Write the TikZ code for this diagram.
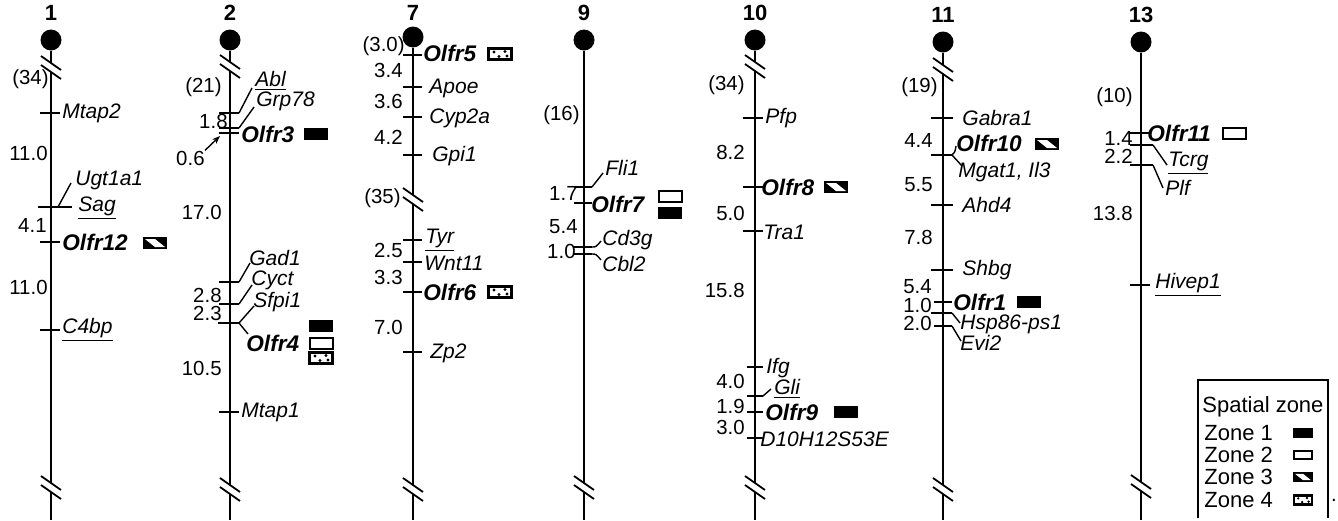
\documentclass[tikz,border=0pt]{standalone}
\usepackage{fontspec}
\setmainfont{Liberation Sans}
\usetikzlibrary{arrows.meta}

\newcommand{\genefont}{\fontsize{10.5}{12}\selectfont\itshape}
\newcommand{\olfrfont}{\fontsize{11.3}{13}\selectfont\bfseries\itshape}
\newcommand{\distfont}{\fontsize{10.2}{12}\selectfont}
\newcommand{\legfont}{\fontsize{11}{13}\selectfont}

\tikzset{
  brk/.pic={
    \draw[white, line width=3pt] (0,-5) -- (0,4);
    \draw[line width=0.9pt] (-10,-12) -- (10,2) (-10,-3) -- (10,11);
  },
  zone1/.pic={\fill (-12,-6) rectangle (12,6);},
  zone2/.pic={\draw[line width=1pt] (-11.5,-5.5) rectangle (11.5,5.5);},
  zone3/.pic={
    \fill (-12,-6) rectangle (12,6);
    \fill[white] (-10,-4) -- (0,-4) -- (10,4) -- (0,4) -- cycle;
  },
  zone4/.pic={
    \draw[line width=1.2pt] (-11.5,-5.5) rectangle (11.5,5.5);
    \fill (-6,-2) circle (0.8pt) (5,-2.5) circle (0.8pt) (-1,2.5) circle (0.8pt) (7,2) circle (0.8pt);
  }
}

\begin{document}
\begin{tikzpicture}[x=0.5pt, y=-0.5pt,
  chrom/.style={line width=1pt},
  tk/.style={line width=0.8pt},
  lnk/.style={line width=0.7pt},
  cen/.style={circle, fill, inner sep=0pt, minimum size=10.5pt},
  chnum/.style={font=\fontsize{11}{13}\selectfont\bfseries, inner sep=0pt},
  gene/.style={font=\genefont, anchor=west, inner sep=0.5pt, xshift=0.5pt},
  olfr/.style={font=\olfrfont, anchor=west, inner sep=0.5pt, xshift=0.5pt},
  dist/.style={font=\distfont, anchor=east, inner sep=0pt, xshift=-1pt},
  legtxt/.style={font=\legfont, anchor=west, inner sep=0pt}
]
\useasboundingbox (0,0) rectangle (1338,520);

% chromosome 1
\begin{scope}[xshift=25.5pt]
\node[chnum] (c1num) at (0,13) {1};
\node[cen] (c1cen) at (0,40) {};
\coordinate (c1end) at (0,520);
\draw[chrom] (c1cen) -- (c1end);
\pic at (0,68) {brk};
\pic at (0,488) {brk};
\node[dist] at (0,79) {(34)};
\draw[tk] (-11,113) -- (9,113);
\node[gene] (mtap2) at (9,113) {Mtap2};
\node[dist] at (-1,153) {11.0};
\draw[tk] (-13,207) -- (21,207);
\draw[lnk] (7,207) -- (20,183);
\node[gene] (ugt1a1) at (22,180) {Ugt1a1};
\node[gene] (sag) at (25,208) {\underline{Sag}};
\node[dist] at (-2,225) {4.1};
\draw[tk] (-11,242) -- (9,242);
\node[olfr] (olfr12) at (9,242) {Olfr12};
\pic at (104,243) {zone3};
\node[dist] at (-1,287) {11.0};
\draw[tk] (-11,330) -- (9,330);
\node[gene] (c4bp) at (9,330) {\underline{C4bp}};
\end{scope}

% chromosome 2
\begin{scope}[xshift=115pt]
\node[chnum] (c2num) at (0,13) {2};
\node[cen] (c2cen) at (0,40) {};
\coordinate (c2end) at (0,520);
\draw[chrom] (c2cen) -- (c2end);
\pic at (0,67) {brk};
\pic at (0,490) {brk};
\node[dist] at (-6,87) {(21)};
\draw[tk] (-11,113) -- (9,113);
\draw[lnk] (9,113) -- (22,88);
\node[gene] (abl) at (23,81) {\underline{Abl}};
\draw[tk] (-11,128) -- (9,128);
\draw[lnk] (9,128) -- (24,107);
\node[gene] (grp78) at (24,101) {Grp78};
\node[dist] at (0,121) {1.8};
\draw[tk] (-11,133) -- (9,133);
\node[olfr] (olfr3) at (9,134) {Olfr3};
\pic at (86,134) {zone1};
\node[dist] (c2small) at (-23,158) {0.6};
\coordinate (c2olfr3) at (-10,136);
\draw[lnk, -{Stealth[length=4pt]}] (c2small.north east) -- (c2olfr3);
\node[dist] at (-6,212) {17.0};
\draw[tk] (-11,282) -- (9,282);
\draw[lnk] (9,282) -- (20,263);
\node[gene] (gad1) at (17,258) {Gad1};
\node[dist] at (-6,295) {2.8};
\draw[tk] (-11,304) -- (9,304);
\draw[lnk] (9,304) -- (22,285);
\node[gene] (cyct) at (19,280) {Cyct};
\node[dist] at (-6,313) {2.3};
\draw[tk] (-12,323) -- (9,323);
\draw[lnk] (9,323) -- (24,306);
\node[gene] (sfpi1) at (21,302) {Sfpi1};
\draw[lnk] (9,323) -- (18,334);
\node[olfr] (olfr4) at (14,343) {Olfr4};
\pic at (91,326) {zone1};
\pic at (91,343) {zone2};
\pic at (91,358) {zone4};
\node[dist] at (-6,368) {10.5};
\draw[tk] (-11,412) -- (9,412);
\node[gene] (mtap1) at (9,412) {Mtap1};
\end{scope}

% chromosome 7
\begin{scope}[xshift=206.5pt]
\node[chnum] (c7num) at (0,13) {7};
\node[cen] (c7cen) at (0,37) {};
\coordinate (c7end) at (0,520);
\draw[chrom] (c7cen) -- (c7end);
\pic at (0,200) {brk};
\pic at (0,490) {brk};
\node[dist] at (-6,46) {(3.0)};
\draw[tk] (-10,55) -- (9,55);
\node[olfr] (olfr5) at (8,53) {Olfr5};
\pic at (87,54) {zone4};
\node[dist] at (-8,70) {3.4};
\draw[tk] (-10,87) -- (9,87);
\node[gene] (apoe) at (14,88) {Apoe};
\node[dist] at (-8,101) {3.6};
\draw[tk] (-10,117) -- (9,117);
\node[gene] (cyp2a) at (14,118) {Cyp2a};
\node[dist] at (-8,137) {4.2};
\draw[tk] (-10,155) -- (9,155);
\node[gene] (gpi1) at (17,156) {Gpi1};
\node[dist] at (-10,198) {(35)};
\draw[tk] (-10,240) -- (9,240);
\node[gene] (tyr) at (10,240) {\underline{Tyr}};
\node[dist] at (-8,250) {2.5};
\draw[tk] (-10,262) -- (9,262);
\node[gene] (wnt11) at (9,263) {Wnt11};
\node[dist] at (-8,277) {3.3};
\draw[tk] (-10,292) -- (9,292);
\node[olfr] (olfr6) at (8,292) {Olfr6};
\pic at (87,292) {zone4};
\node[dist] at (-8,327) {7.0};
\draw[tk] (-10,352) -- (9,352);
\node[gene] (zp2) at (15,353) {Zp2};
\end{scope}

% chromosome 9
\begin{scope}[xshift=292pt]
\node[chnum] (c9num) at (0,13) {9};
\node[cen] (c9cen) at (0,40) {};
\coordinate (c9end) at (0,520);
\draw[chrom] (c9cen) -- (c9end);
\pic at (0,488) {brk};
\node[dist] at (-2,115) {(16)};
\draw[tk] (-10,187) -- (8,187);
\draw[lnk] (8,187) -- (19,173);
\node[gene] (fli1) at (19,168) {Fli1};
\node[dist] at (-4,193) {1.7};
\draw[tk] (-10,203) -- (8,203);
\node[olfr] (olfr7) at (5,204) {Olfr7};
\pic at (86,196) {zone2};
\pic at (86,213) {zone1};
\node[dist] at (-4,227) {5.4};
\draw[tk] (-10,247) -- (8,247);
\draw[tk] (-10,254) -- (8,254);
\draw[lnk] (8,247) .. controls (12,247) .. (17,241);
\node[gene] (cd3g) at (16,240) {Cd3g};
\draw[lnk] (8,254) .. controls (12,254) .. (17,260);
\node[gene] (cbl2) at (16,264) {Cbl2};
\node[dist] at (-6,251) {1.0};
\end{scope}

% chromosome 10
\begin{scope}[xshift=377.5pt]
\node[chnum] (c10num) at (0,13) {10};
\node[cen] (c10cen) at (0,40) {};
\coordinate (c10end) at (0,520);
\draw[chrom] (c10cen) -- (c10end);
\pic at (0,67) {brk};
\pic at (0,488) {brk};
\node[dist] at (-8,85) {(34)};
\draw[tk] (-12,118) -- (8,118);
\node[gene] (pfp) at (8,118) {Pfp};
\node[dist] at (-8,152) {8.2};
\draw[tk] (-12,187) -- (8,187);
\node[olfr] (olfr8) at (4,187) {Olfr8};
\pic at (81,187) {zone3};
\node[dist] at (-8,213) {5.0};
\draw[tk] (-12,231) -- (8,231);
\node[gene] (tra1) at (6,232) {Tra1};
\node[dist] at (-8,290) {15.8};
\draw[tk] (-8,367) -- (8,367);
\node[gene] (ifg) at (9,368) {Ifg};
\node[dist] at (-8,381) {4.0};
\draw[tk] (-8,396) -- (8,396);
\draw[lnk] (8,396) -- (16,389);
\node[gene] (gli) at (17,389) {\underline{Gli}};
\node[dist] at (-8,406) {1.9};
\draw[tk] (-8,412) -- (8,412);
\node[olfr] (olfr9) at (8,412) {Olfr9};
\pic at (91,412) {zone1};
\node[dist] at (-8,427) {3.0};
\draw[tk] (-8,438) -- (8,438);
\node[gene] (d10h12s53e) at (3,439) {D10H12S53E};
\end{scope}

% chromosome 11
\begin{scope}[xshift=471.5pt]
\node[chnum] (c11num) at (0,15) {11};
\node[cen] (c11cen) at (0,42) {};
\coordinate (c11end) at (0,520);
\draw[chrom] (c11cen) -- (c11end);
\pic at (0,70) {brk};
\pic at (0,490) {brk};
\node[dist] at (-3,87) {(19)};
\draw[tk] (-12,118) -- (10,118);
\node[gene] (gabra1) at (17,118) {Gabra1};
\node[dist] at (-8,140) {4.4};
\draw[tk] (-12,155) -- (9,155);
\draw[lnk] (9,155) .. controls (12,152) .. (13,146);
\node[olfr] (olfr10) at (11,143) {Olfr10};
\pic at (104,144) {zone3};
\draw[lnk] (9,155) -- (19,166);
\node[gene] (mgat1) at (13,172) {Mgat1, Il3};
\node[dist] at (-8,185) {5.5};
\draw[tk] (-12,205) -- (10,205);
\node[gene] (ahd4) at (17,205) {Ahd4};
\node[dist] at (-8,237) {7.8};
\draw[tk] (-12,270) -- (10,270);
\node[gene] (shbg) at (17,270) {Shbg};
\node[dist] at (-9,287) {5.4};
\draw[tk] (-9,302) -- (9,302);
\node[olfr] (olfr1) at (8,302) {Olfr1};
\pic at (86,302) {zone1};
\node[dist] at (-9,305) {1.0};
\draw[tk] (-12,313) -- (9,313);
\draw[lnk] (9,313) -- (17,323);
\node[gene] (hsp86) at (15,324) {Hsp86-ps1};
\node[dist] at (-9,323) {2.0};
\draw[tk] (-9,326) -- (9,326);
\draw[lnk] (9,326) -- (18,341);
\node[gene] (evi2) at (15,343) {Evi2};
\end{scope}

% chromosome 13
\begin{scope}[xshift=570.5pt]
\node[chnum] (c13num) at (0,15) {13};
\node[cen] (c13cen) at (0,42) {};
\coordinate (c13end) at (0,520);
\draw[chrom] (c13cen) -- (c13end);
\pic at (0,487) {brk};
\node[dist] at (-6,97) {(10)};
\draw[tk] (-11,133) -- (9,133);
\node[olfr] (olfr11) at (4,133) {Olfr11};
\pic at (93,133) {zone2};
\node[dist] at (-6,138) {1.4};
\draw[tk] (-11,145) -- (12,145);
\draw[lnk] (12,145) -- (26,165);
\node[gene] (tcrg) at (25,163) {\underline{Tcrg}};
\node[dist] at (-6,156) {2.2};
\draw[tk] (-11,165) -- (12,165);
\draw[lnk] (12,165) -- (22,188);
\node[gene] (plf) at (22,188) {Plf};
\node[dist] at (-6,213) {13.8};
\draw[tk] (-11,285) -- (9,285);
\node[gene] (hivep1) at (12,285) {\underline{Hivep1}};
\end{scope}

% legend
\draw[line width=0.9pt] (1198,518) -- (1198,380) -- (1328,380) -- (1328,518);
\node[legtxt] (legtitle) at (1202,407) {Spatial zone};
\node[legtxt] (leg1) at (1204,433) {Zone 1};
\node[legtxt] (leg2) at (1204,455) {Zone 2};
\node[legtxt] (leg3) at (1204,477) {Zone 3};
\node[legtxt] (leg4) at (1204,500) {Zone 4};
\pic[scale=0.8] at (1303,433) {zone1};
\pic[scale=0.8] at (1303,455) {zone2};
\pic[scale=0.8] at (1303,477) {zone3};
\pic[scale=0.8] at (1303,500) {zone4};
\node[font=\distfont, inner sep=0pt] (legdot) at (1334,500) {.};
\end{tikzpicture}
\end{document}
